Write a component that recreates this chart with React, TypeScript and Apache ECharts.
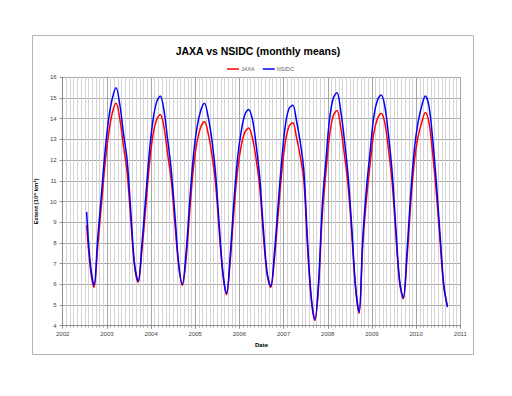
import React, { useEffect, useRef } from "react";
import * as echarts from "echarts";

// First month shown: July 2002 (month index 7), monthly means plotted at mid-month
const START_YEAR = 2002;
const START_MONTH = 7;

const jaxa: number[] = [
  8.85, 6.8, 5.85, 7.8, 9.8, 11.8,
  13.3, 14.3, 14.75, 14.0, 12.7, 11.4, 9.1, 6.9, 6.1, 7.6, 9.6, 11.7,
  13.2, 13.95, 14.2, 13.6, 12.3, 11.0, 8.9, 6.9, 5.95, 7.2, 9.5, 11.6,
  12.9, 13.6, 13.85, 13.3, 12.3, 10.9, 8.6, 6.5, 5.5, 7.1, 9.5, 11.5,
  12.7, 13.35, 13.55, 13.1, 12.1, 10.7, 8.4, 6.5, 5.85, 7.2, 9.3, 11.4,
  12.9, 13.65, 13.8, 13.1, 12.2, 11.0, 7.8, 5.3, 4.25, 5.9, 9.3, 11.4,
  13.2, 14.15, 14.4, 13.6, 12.3, 10.8, 8.5, 5.9, 4.6, 7.9, 10.1, 11.8,
  13.3, 14.0, 14.25, 13.8, 12.5, 10.9, 8.4, 6.1, 5.3, 7.2, 9.8, 11.9,
  13.1, 13.8, 14.3, 13.8, 12.3, 10.4, 8.1, 5.9, 4.95,
];

const nsidc: number[] = [
  9.5, 7.0, 5.95, 8.2, 10.3, 12.4,
  14.0, 15.0, 15.5, 14.7, 13.3, 12.0, 9.5, 7.0, 6.15, 7.9, 10.1, 12.3,
  13.9, 14.8, 15.1, 14.4, 13.0, 11.5, 9.3, 7.0, 6.0, 7.5, 10.0, 12.2,
  13.6, 14.4, 14.75, 14.1, 13.0, 11.4, 8.9, 6.6, 5.55, 7.4, 10.0, 12.1,
  13.4, 14.2, 14.45, 14.0, 12.8, 11.2, 8.7, 6.6, 5.9, 7.5, 9.8, 12.0,
  13.7, 14.5, 14.65, 13.9, 12.9, 11.5, 8.1, 5.4, 4.3, 6.1, 9.8, 12.0,
  14.0, 15.0, 15.25, 14.4, 13.0, 11.3, 8.8, 6.0, 4.65, 8.2, 10.6, 12.4,
  14.1, 14.9, 15.15, 14.6, 13.2, 11.4, 8.7, 6.2, 5.35, 7.5, 10.3, 12.5,
  13.8, 14.6, 15.1, 14.6, 13.0, 10.9, 8.4, 6.0, 4.9,
];

const X_MIN = 2002;
const X_MAX = 2011;
const Y_MIN = 4;
const Y_MAX = 16;

const dateOf = (i: number) => START_YEAR + (START_MONTH - 1 + i + 0.5) / 12;

export default function App() {
  const ref = useRef<HTMLDivElement>(null);
  useEffect(() => {
    if (!ref.current) return;
    const chart = echarts.init(ref.current, null, { renderer: "svg" });
    const font = "Liberation Sans";
    chart.setOption({
      animation: false,
      backgroundColor: "#ffffff",
      title: {
        text: "JAXA vs NSIDC (monthly means)",
        left: 253,
        textAlign: "center",
        top: 40,
        textStyle: { fontSize: 10.5, fontWeight: "bold", color: "#000", fontFamily: font },
      },
      legend: {
        top: 61,
        left: 222,
        itemWidth: 12,
        itemHeight: 1.5,
        itemGap: 8,
        icon: "rect",
        textStyle: { fontSize: 5.5, color: "#666", fontFamily: font, padding: [0, 0, 0, -3] },
        data: ["JAXA", "NSIDC"],
      },
      graphic: [
        {
          type: "rect",
          shape: { x: 32.5, y: 35.5, width: 441, height: 319 },
          style: { fill: "none", stroke: "#b5b5b5", lineWidth: 1 },
          silent: true,
          z: -1,
        },
      ],
      grid: { left: 62.7, right: 51.7, top: 77.3, bottom: 70.3 },
      xAxis: {
        type: "value",
        min: X_MIN,
        max: X_MAX,
        interval: 1,
        name: "Date",
        nameLocation: "middle",
        nameGap: 15,
        nameTextStyle: { fontSize: 6, fontWeight: "bold", color: "#000", fontFamily: font },
        axisLine: { show: true, lineStyle: { color: "#8c8c8c", width: 1 } },
        axisTick: { show: true, length: 3, lineStyle: { color: "#8c8c8c" } },
        minorTick: { show: true, splitNumber: 12, length: 2, lineStyle: { color: "#aaaaaa" } },
        axisLabel: { fontSize: 6, color: "#444", fontFamily: font, margin: 5, formatter: (v: number) => String(v) },
        splitLine: { show: true, lineStyle: { color: "#a6a6a6", width: 1 } },
        minorSplitLine: { show: true, lineStyle: { color: "#d4d4d4", width: 1 } },
      },
      yAxis: {
        type: "value",
        min: Y_MIN,
        max: Y_MAX,
        interval: 1,
        name: "Extent (10⁶ km²)",
        nameLocation: "middle",
        nameGap: 16,
        nameTextStyle: { fontSize: 6, fontWeight: "bold", color: "#000", fontFamily: font },
        axisLine: { show: true, lineStyle: { color: "#8c8c8c", width: 1 } },
        axisTick: { show: true, length: 3, lineStyle: { color: "#8c8c8c" } },
        axisLabel: { fontSize: 6, color: "#444", fontFamily: font, margin: 6 },
        splitLine: { show: true, lineStyle: { color: "#a6a6a6", width: 1 } },
      },
      series: [
        {
          name: "JAXA",
          type: "line",
          smooth: 0.35,
          symbol: "none",
          color: "#ff0000",
          lineStyle: { width: 1.5, color: "#ff0000" },
          data: jaxa.map((v, i) => [dateOf(i), v]),
        },
        {
          name: "NSIDC",
          type: "line",
          smooth: 0.35,
          symbol: "none",
          color: "#0000ff",
          lineStyle: { width: 1.5, color: "#0000ff" },
          data: nsidc.map((v, i) => [dateOf(i), v]),
        },
      ],
    });
    return () => chart.dispose();
  }, []);
  return (
    <div
      ref={ref}
      style={{ position: "fixed", left: 0, top: 0, width: 512, height: 396, background: "#fff" }}
    />
  );
}
